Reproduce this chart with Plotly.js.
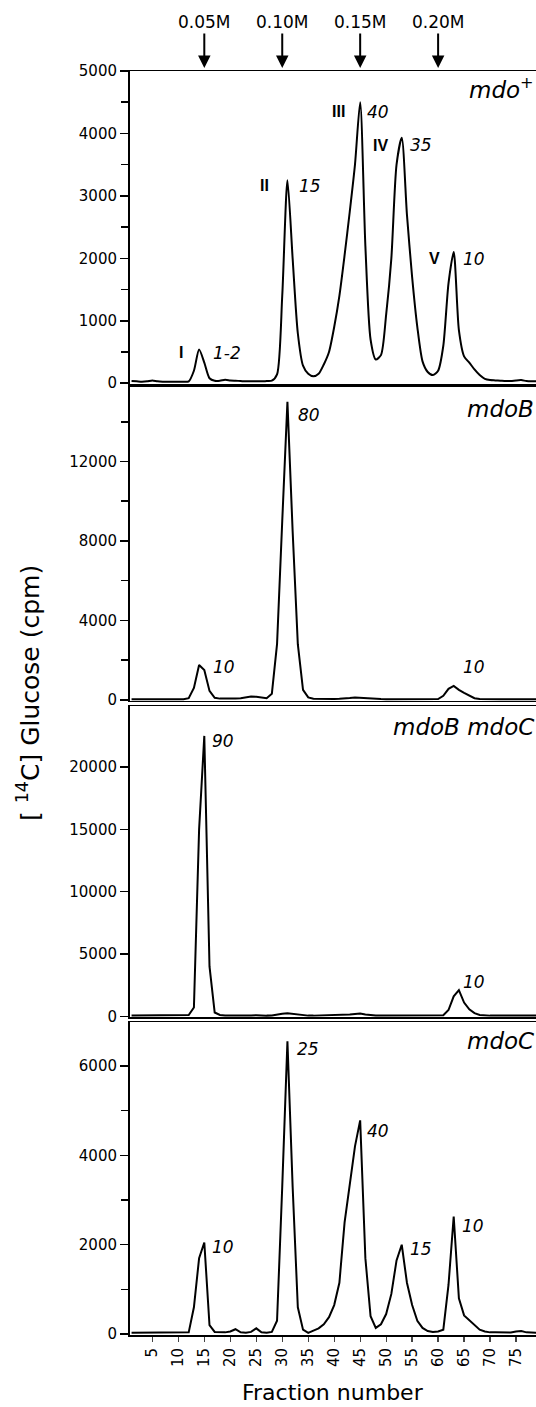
<!DOCTYPE html>
<html>
<head>
<meta charset="utf-8">
<script src="https://cdn.plot.ly/plotly-3.0.1.min.js"></script>
<style>html,body{margin:0;padding:0;background:#fff;}#chart{width:536px;height:1407px;}</style>
</head>
<body>
<div id="chart"></div>
<script>
const fractions = [1,2,3,4,5,6,7,8,9,10,11,12,13,14,15,16,17,18,19,20,21,22,23,24,25,26,27,28,29,30,31,32,33,34,35,36,37,38,39,40,41,42,43,44,45,46,47,48,49,50,51,52,53,54,55,56,57,58,59,60,61,62,63,64,65,66,67,68,69,70,71,72,73,74,75,76,77,78,79];

const mdoPlus = [35,30,25,30,45,30,25,25,25,25,
  25,30,200,540,330,80,40,40,55,45,
  40,35,30,30,30,30,35,40,140,1400,
  3250,2000,800,280,150,110,150,300,500,900,
  1400,2050,2750,3500,4500,2200,700,380,450,1100,
  2000,3500,3930,2700,1700,900,350,180,130,200,
  600,1600,2100,850,430,330,220,130,70,50,
  45,40,35,35,45,50,35,30,30];

const mdoB = [30,30,30,30,50,30,30,30,30,30,
  30,80,600,1750,1500,450,100,60,50,50,
  60,80,120,160,150,100,80,300,2800,9000,
  15000,8500,2800,500,120,50,40,40,40,40,
  50,60,90,120,100,70,50,40,40,30,
  30,30,30,40,50,40,30,30,30,40,
  200,550,700,500,350,200,80,40,30,30,
  30,30,30,30,30,30,30,30,30];

const mdoBmdoC = [50,50,60,50,50,60,50,50,50,60,
  50,100,700,15000,22500,4000,300,100,60,50,
  50,60,50,60,80,50,50,60,100,200,
  250,200,100,60,50,50,60,50,60,80,
  100,120,150,180,220,150,80,60,50,50,
  50,60,80,70,60,50,50,50,60,60,
  80,500,1600,2100,1100,550,250,100,60,50,
  50,50,50,50,50,50,50,50,50];

const mdoC = [30,30,30,30,40,30,30,30,30,30,
  30,40,600,1700,2050,200,50,40,40,60,
  110,40,30,50,130,40,30,50,300,3300,
  6550,3300,600,100,30,80,130,220,380,650,
  1150,2500,3300,4200,4780,1700,400,140,220,450,
  900,1650,2000,1150,650,300,140,70,50,60,
  100,1100,2630,800,420,310,200,100,60,40,
  40,35,30,35,60,70,40,30,30];

const fractionTicks = [5,10,15,20,25,30,35,40,45,50,55,60,65,70,75];
const concLabels = ['0.05M','0.10M','0.15M','0.20M'];
const concFractions = [15,30,45,60];
const panelNames = ['<i>mdo</i><sup>+</sup>','<i>mdoB</i>','<i>mdoB mdoC</i>','<i>mdoC</i>'];
const seriesList = [mdoPlus, mdoB, mdoBmdoC, mdoC];

const FONT = 'DejaVu Sans, Arial, sans-serif';
const traces = seriesList.map((s, i) => ({
  x: fractions, y: s, type: 'scatter', mode: 'lines',
  xaxis: i === 0 ? 'x' : 'x' + (i + 1),
  yaxis: i === 0 ? 'y' : 'y' + (i + 1),
  line: i === 0 ? {color: '#000', width: 2, shape: 'spline', smoothing: 0.7} : {color: '#000', width: 2},
  hoverinfo: 'skip', showlegend: false
}));

function xAx(anchor, bottom) {
  const a = {
    domain: [0, 1], range: [0.7, 78.84], anchor: anchor,
    showline: true, mirror: true, linecolor: '#000', linewidth: 1.5,
    showgrid: false, zeroline: false, fixedrange: true,
    ticks: '', showticklabels: false
  };
  if (bottom) {
    a.ticks = 'outside'; a.tickvals = fractionTicks; a.ticklen = 5; a.tickwidth = 1.3;
    a.showticklabels = true; a.tickangle = -90; a.tickfont = {family: FONT, size: 15, color: '#000'};
  }
  return a;
}
function yAx(domain, range, dtick, minorDtick) {
  const a = {
    domain: domain, range: range, tick0: 0, dtick: dtick, tickformat: 'd',
    showline: true, linecolor: '#000', linewidth: 2,
    ticks: 'outside', ticklen: 8, tickwidth: 1.5, tickcolor: '#000',
    tickfont: {family: FONT, size: 15, color: '#000'},
    showgrid: false, zeroline: false, fixedrange: true
  };
  if (minorDtick) a.minor = {dtick: minorDtick, tick0: 0, ticks: 'outside', ticklen: 7, tickwidth: 1.5, tickcolor: '#000', showgrid: false};
  return a;
}

const annotations = [];
concLabels.forEach((t, i) => {
  annotations.push({xref: 'x', yref: 'paper', x: concFractions[i], y: 1.0024, text: t,
    showarrow: true, ax: 0, ay: -46, arrowhead: 2, arrowsize: 1.25, arrowwidth: 2, arrowcolor: '#000',
    standoff: 0, font: {family: FONT, size: 17, color: '#000'}});
});
const nameY = [0.9862, 0.7330, 0.4815, 0.2330];
panelNames.forEach((t, i) => {
  annotations.push({xref: 'paper', yref: 'paper', x: 1, y: nameY[i], xanchor: 'right', yanchor: 'middle',
    text: t, showarrow: false, font: {family: FONT, size: 23, color: '#000'}});
});
function lab(ax, x, y, text, roman) {
  annotations.push({xref: 'x' + (ax === 1 ? '' : ax), yref: 'y' + (ax === 1 ? '' : ax), x: x, y: y,
    text: roman ? '<b>' + text + '</b>' : '<i>' + text + '</i>', showarrow: false, xanchor: 'center', yanchor: 'middle',
    font: roman ? {family: 'Liberation Sans, Arial, sans-serif', size: 16, color: '#000'} : {family: FONT, size: 17, color: '#000'}});
}
lab(1, 10.6, 490, 'I', true); lab(1, 19.3, 490, '1-2');
lab(1, 26.5, 3160, 'II', true); lab(1, 35.4, 3160, '15');
lab(1, 40.8, 4350, 'III', true); lab(1, 48.5, 4350, '40');
lab(1, 49.0, 3815, 'IV', true); lab(1, 56.8, 3815, '35');
lab(1, 59.3, 1995, 'V', true); lab(1, 66.9, 1995, '10');
lab(2, 35.2, 14320, '80'); lab(2, 18.7, 1640, '10'); lab(2, 66.9, 1640, '10');
lab(3, 18.65, 22120, '90'); lab(3, 66.9, 2740, '10');
lab(4, 35.0, 6380, '25'); lab(4, 48.5, 4535, '40'); lab(4, 18.6, 1940, '10');
lab(4, 56.7, 1900, '15'); lab(4, 66.7, 2420, '10');

annotations.push({xref: 'paper', yref: 'paper', x: 0.5, y: -0.0450, xanchor: 'center', yanchor: 'middle',
  text: 'Fraction number', showarrow: false, font: {family: FONT, size: 22, color: '#000'}});
annotations.push({xref: 'paper', yref: 'paper', x: -0.2512, y: 0.5083, xanchor: 'center', yanchor: 'middle',
  textangle: -90, text: '[ <sup>14</sup>C] Glucose (cpm)', showarrow: false, font: {family: FONT, size: 25, color: '#000'}});

const layout = {
  width: 536, height: 1407,
  margin: {l: 130, r: 0, t: 71, b: 71},
  paper_bgcolor: '#fff', plot_bgcolor: '#fff',
  font: {family: FONT, color: '#000'},
  showlegend: false,
  xaxis: xAx('y', false), xaxis2: xAx('y2', false), xaxis3: xAx('y3', false), xaxis4: xAx('y4', true),
  yaxis: yAx([0.7522, 1.0], [-20, 5000], 1000, 500),
  yaxis2: yAx([0.50198, 0.7502], [-60, 15750], 4000, 2000),
  yaxis3: yAx([0.25178, 0.49802], [-100, 24900], 5000, null),
  yaxis4: yAx([0.0004, 0.24822], [-30, 6980], 2000, 1000),
  annotations: annotations
};
Plotly.newPlot('chart', traces, layout, {staticPlot: true, displayModeBar: false});
</script>
</body>
</html>
